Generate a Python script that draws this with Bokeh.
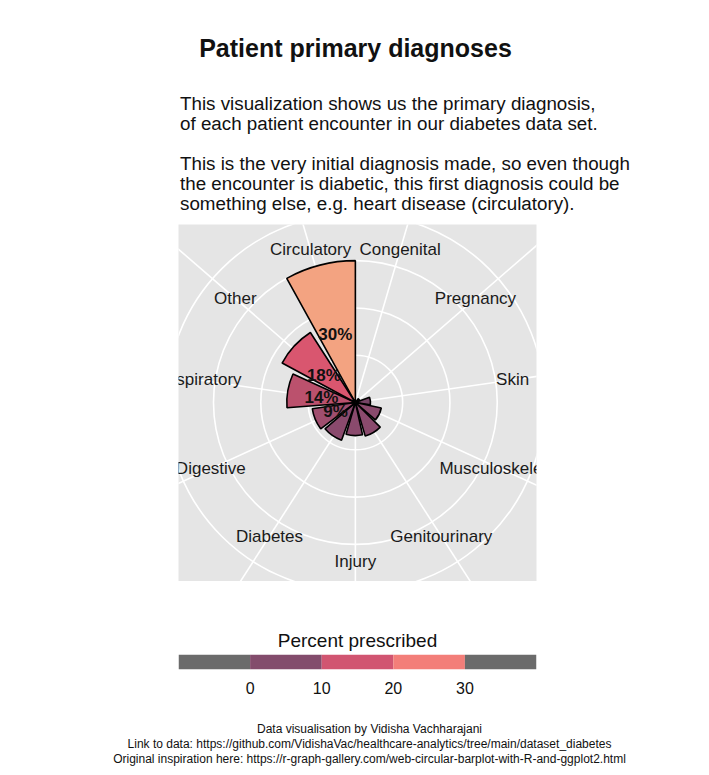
from bokeh.plotting import figure
from bokeh.models import Div, LinearColorMapper, FixedTicker, Range1d
from bokeh.layouts import column
from bokeh.transform import transform
from bokeh.core.properties import value
from bokeh.embed import file_html
from bokeh.resources import INLINE
import numpy as np

FONT = "Liberation Sans"

# data, clockwise from the top
categories = ["Circulatory", "Congenital", "Pregnancy", "Skin", "Musculoskeletal",
              "Genitourinary", "Injury", "Diabetes", "Digestive", "Respiratory", "Other"]
percent = [30.0, 0.2, 1.0, 3.2, 5.6, 7.4, 7.0, 8.5, 9.2, 14.5, 17.6]
bar_labels = ["30%", "", "", "", "", "", "", "", "9%", "14%", "18%"]

legend_edges = [-10, 0, 10, 20, 30, 40]
legend_colors = ["#6b6b6b", "#834c6c", "#d15571", "#f37e79", "#6b6b6b"]
legend_ticks = [0, 10, 20, 30]

n = len(categories)
step = 360.0 / n
centre = np.array([-step / 2 + i * step for i in range(n)])  # compass degrees
bokeh_ang = np.deg2rad(90 - centre)

# ---- header text
header = Div(width=701, height=214, styles={"font-family": FONT, "color": "#111"}, text="""
<div style="width:701px;text-align:center;font-size:25px;font-weight:bold;margin-top:26px">Patient primary diagnoses</div>
<div style="width:480px;margin-left:175px;text-align:left;font-size:18.8px;line-height:20px;margin-top:27px">
This visualization shows us the primary diagnosis,<br>of each patient encounter in our diabetes data set.<br><br>
This is the very initial diagnosis made, so even though<br>the encounter is diabetic, this first diagnosis could be<br>something else, e.g. heart disease (circulatory).</div>
""")

# ---- polar bar chart
p = figure(width=701, height=357, output_backend="svg", toolbar_location=None,
           x_range=Range1d(-37.4, 38.3), y_range=Range1d(-37.8, 37.6),
           min_border_left=178, min_border_right=165, min_border_top=0, min_border_bottom=0)
p.axis.visible = False
p.grid.visible = False
p.outline_line_color = None
p.background_fill_color = "#e5e5e5"
p.border_fill_color = "white"

for r in [10, 20, 30, 40]:
    p.circle(x=0, y=0, radius=r, fill_color=None, line_color="white", line_width=1.6)
p.ray(x=[0] * n, y=[0] * n, angle=bokeh_ang, length=0, line_color="white", line_width=1.6)

mapper = LinearColorMapper(palette=["#764466", "#8a4a6d", "#a04e6e", "#bb516d", "#d9566f", "#ea6f73", "#f3a381"],
                           low=0, high=30)
src = dict(r=percent, start=90 - (centre + step / 2), end=90 - (centre - step / 2 + 3.8), v=percent)
p.wedge(x=0, y=0, radius="r", start_angle="start", end_angle="end", start_angle_units="deg",
        end_angle_units="deg", source=src, fill_color=transform("v", mapper),
        line_color="black", line_width=1.6)

half = np.array(percent) / 2
p.text(x=half * np.cos(bokeh_ang), y=half * np.sin(bokeh_ang), text=bar_labels,
       text_font=value(FONT), text_font_style="bold", text_font_size="17px",
       text_align="center", text_baseline="middle", text_color="#111")

p.text(x=33.6 * np.cos(bokeh_ang), y=33.6 * np.sin(bokeh_ang), text=categories,
       text_font=value(FONT), text_font_size="17px", text_align="center",
       text_baseline="middle", text_color="#1a1a1a")

# ---- legend
lg = figure(width=701, height=122, output_backend="svg", toolbar_location=None,
            x_range=Range1d(-10, 40), y_range=Range1d(0, 1),
            min_border_left=158, min_border_right=145, min_border_top=73, min_border_bottom=34)
lg.title.text = "Percent prescribed"
lg.title.align = "center"
lg.title.text_font = FONT
lg.title.text_font_size = "19px"
lg.title.text_font_style = "normal"
lg.title.text_color = "#111"
lg.title.offset = 0
lg.title.standoff = 7
lg.quad(left=legend_edges[:-1], right=legend_edges[1:], bottom=0, top=1, fill_color=legend_colors, line_color=None)
lg.yaxis.visible = False
lg.grid.visible = False
lg.outline_line_color = None
lg.xaxis.ticker = FixedTicker(ticks=legend_ticks)
lg.xaxis.axis_line_color = None
lg.xaxis.major_tick_line_color = None
lg.xaxis.minor_tick_line_color = None
lg.xaxis.major_label_text_font = FONT
lg.xaxis.major_label_text_font_size = "16px"
lg.xaxis.major_label_text_color = "#111"
lg.xaxis.major_label_standoff = 6

caption = Div(width=701, height=60, styles={"font-family": FONT, "color": "#111"}, text="""
<div style="width:701px;text-align:center;font-size:12px;line-height:15px;padding-left:28px;margin-top:14px">
Data visualisation by Vidisha Vachharajani<br>
Link to data: https://github.com/VidishaVac/healthcare-analytics/tree/main/dataset_diabetes<br>
Original inspiration here: https://r-graph-gallery.com/web-circular-barplot-with-R-and-ggplot2.html</div>
""")

layout = column(header, p, lg, caption, spacing=0)
open("out.html", "w").write(file_html(layout, INLINE))
